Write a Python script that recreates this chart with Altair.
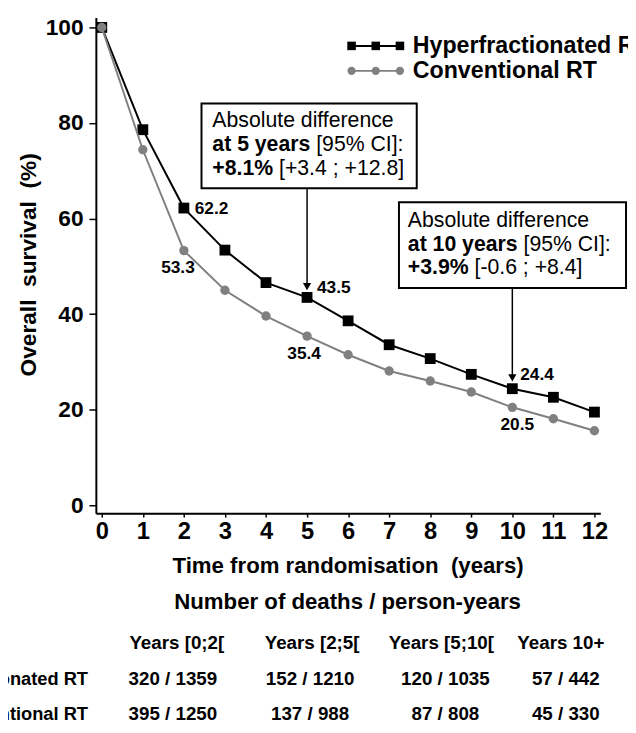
import altair as alt
import pandas as pd

# ---------------- data ----------------
years = list(range(13))
hyper = [100, 78.6, 62.2, 53.4, 46.6, 43.5, 38.6, 33.6, 30.7, 27.4, 24.4, 22.6, 19.5]
conv = [100, 74.4, 53.3, 45.0, 39.6, 35.4, 31.5, 28.1, 26.0, 23.7, 20.5, 18.1, 15.6]
series_names = ["Hyperfractionated RT", "Conventional RT"]
y_ticks = [0, 20, 40, 60, 80, 100]
x_ticks = years

box5_lines = ["Absolute difference", "at 5 years", "[95% CI]:", "+8.1%", "[+3.4 ; +12.8]"]
box10_lines = ["Absolute difference", "at 10 years", "[95% CI]:", "+3.9%", "[-0.6 ; +8.4]"]

table_title = "Number of deaths / person-years"
table_headers = ["Years [0;2[", "Years [2;5[", "Years [5;10[", "Years 10+"]
table_hyper = ["320 / 1359", "152 / 1210", "120 / 1035", "57 / 442"]
table_conv = ["395 / 1250", "137 / 988", "87 / 808", "45 / 330"]

# ---------------- style ----------------
FONT = "Liberation Sans"
GRAY = "#808080"
W, H = 511, 502

xs = alt.Scale(domain=[-0.144, 12.144], nice=False, zero=False)
ys = alt.Scale(domain=[-1.65, 102.07], nice=False, zero=False)

xaxis = alt.Axis(values=x_ticks, format="d", grid=False, domainColor="black", domainWidth=2,
                 tickColor="black", tickWidth=1.5, tickSize=4, labelFont=FONT, labelFontSize=24,
                 labelFontWeight="bold", labelColor="black", labelPadding=3, labelOverlap=False,
                 labelFlush=False, title="Time from randomisation\u00a0 (years)", titleFont=FONT,
                 titleFontSize=22.5, titleFontWeight="bold", titleColor="black", titleX=255, titleY=53,
                 titleBaseline="middle", titleAlign="center")
yaxis = alt.Axis(values=y_ticks, format="d", grid=False, domainColor="black", domainWidth=2,
                 tickColor="black", tickWidth=1.5, tickSize=7, labelFont=FONT, labelFontSize=23,
                 labelFontWeight="bold", labelColor="black", labelPadding=6, labelOverlap=False,
                 labelFlush=False, title="Overall\u00a0 survival\u00a0 (%)", titleFont=FONT,
                 titleFontSize=23, titleFontWeight="bold", titleColor="black", titleX=-68, titleY=250,
                 titleAngle=270, titleBaseline="middle", titleAlign="center")

X = alt.X("year:Q", scale=xs, axis=xaxis)
Y = alt.Y("v:Q", scale=ys, axis=yaxis)

dfh = pd.DataFrame({"year": years, "v": hyper})
dfc = pd.DataFrame({"year": years, "v": conv})


def one():
    return alt.Chart(alt.Data(values=[{}]))


def txt(s, px, py, size, weight="bold", align="left"):
    return one().mark_text(text=s, font=FONT, fontSize=size, fontWeight=weight, align=align,
                           baseline="middle", color="black").encode(x=alt.value(px), y=alt.value(py))


def vlabel(vals, yr, dx, dy, align):
    d = pd.DataFrame({"year": [years[yr]], "v": [vals[yr]], "t": [f"{vals[yr]:.1f}"]})
    return alt.Chart(d).mark_text(font=FONT, fontSize=17.5, fontWeight="bold", align=align,
                                  baseline="middle", dx=dx, dy=dy, color="black").encode(
        x=X, y=Y, text="t:N")


layers = []
# series
layers.append(alt.Chart(dfh).mark_line(color="black", strokeWidth=2).encode(x=X, y=Y))
layers.append(alt.Chart(dfh).mark_point(shape="square", filled=True, color="black", size=120,
                                        opacity=1).encode(x=X, y=Y))
layers.append(alt.Chart(dfc).mark_line(color=GRAY, strokeWidth=2).encode(x=X, y=Y))
layers.append(alt.Chart(dfc).mark_point(shape="circle", filled=True, color=GRAY, size=90,
                                        opacity=1).encode(x=X, y=Y))

# value labels
layers.append(vlabel(hyper, 2, 11, 1, "left"))
layers.append(vlabel(conv, 2, -6, 18, "center"))
layers.append(vlabel(hyper, 5, 10, -9, "left"))
layers.append(vlabel(conv, 5, -3, 18, "center"))
layers.append(vlabel(hyper, 10, 8, -14, "left"))
layers.append(vlabel(conv, 10, 5, 18, "center"))

# annotation boxes
for (x0, x1, y0, y1) in [(107, 325, 87, 173), (307, 537, 187, 274)]:
    layers.append(one().mark_rect(fill="white", stroke="black", strokeWidth=2).encode(
        x=alt.value(x0), x2=alt.value(x1), y=alt.value(y0), y2=alt.value(y1)))

BOLD_EM = {"at 5 years": 4.614, "at 10 years": 5.17, "+8.1%": 2.863, "+3.9%": 2.863}
for lines, bx, by in [(box5_lines, 118, 105), (box10_lines, 316, 206)]:
    fs = 21.5
    layers.append(txt(lines[0], bx, by, fs, "normal"))
    layers.append(txt(lines[1], bx, by + 24, fs, "bold"))
    layers.append(txt(lines[2], bx + BOLD_EM[lines[1]] * fs + 0.278 * fs, by + 24, fs, "normal"))
    layers.append(txt(lines[3], bx, by + 48, fs, "bold"))
    layers.append(txt(lines[4], bx + BOLD_EM[lines[3]] * fs + 0.278 * fs, by + 48, fs, "normal"))

# arrows
for yr, ytop in [(5, 173), (10, 274)]:
    d = pd.DataFrame({"year": [years[yr]], "v": [hyper[yr]]})
    layers.append(alt.Chart(d).mark_rule(color="black", strokeWidth=1.5, yOffset=-11).encode(
        x=X, y=Y, y2=alt.value(ytop)))
    layers.append(alt.Chart(d).mark_point(shape="triangle-down", filled=True, color="black",
                                          size=70, opacity=1, yOffset=-11).encode(x=X, y=Y))

# legend (manual)
for name, col, shape, ly in [(series_names[0], "black", "square", 28.7),
                             (series_names[1], GRAY, "circle", 54)]:
    layers.append(one().mark_rule(color=col, strokeWidth=2).encode(
        x=alt.value(259), x2=alt.value(308), y=alt.value(ly)))
    for px in (259, 283.5, 308):
        layers.append(one().mark_point(shape=shape, filled=True, color=col, opacity=1,
                                       size=75 if shape == "square" else 70).encode(
            x=alt.value(px), y=alt.value(ly)))
    layers.append(txt(name, 321, ly, 23.5, "bold"))

# table below the chart
layers.append(txt(table_title, 255, 592, 22.5, "bold", "center"))
head_x = [82, 219, 350, 471]
row_x = [78, 217, 354, 476]
for s, px in zip(table_headers, head_x):
    layers.append(txt(s, px, 634, 19, "bold", "center"))
for row, vals, py in [(series_names[0], table_hyper, 670), (series_names[1], table_conv, 706)]:
    layers.append(txt(row, -8, py, 18.5, "bold", "right"))
    for s, px in zip(vals, row_x):
        layers.append(txt(s, px, py, 19, "bold", "center"))

chart = alt.layer(*layers).properties(
    width=W, height=H,
    autosize=alt.AutoSizeParams(type="none"),
    padding={"left": 89, "top": 5, "right": 28, "bottom": 218},
).configure_view(stroke=None)

chart.save("out.html", embed_options={"renderer": "svg", "actions": False})
